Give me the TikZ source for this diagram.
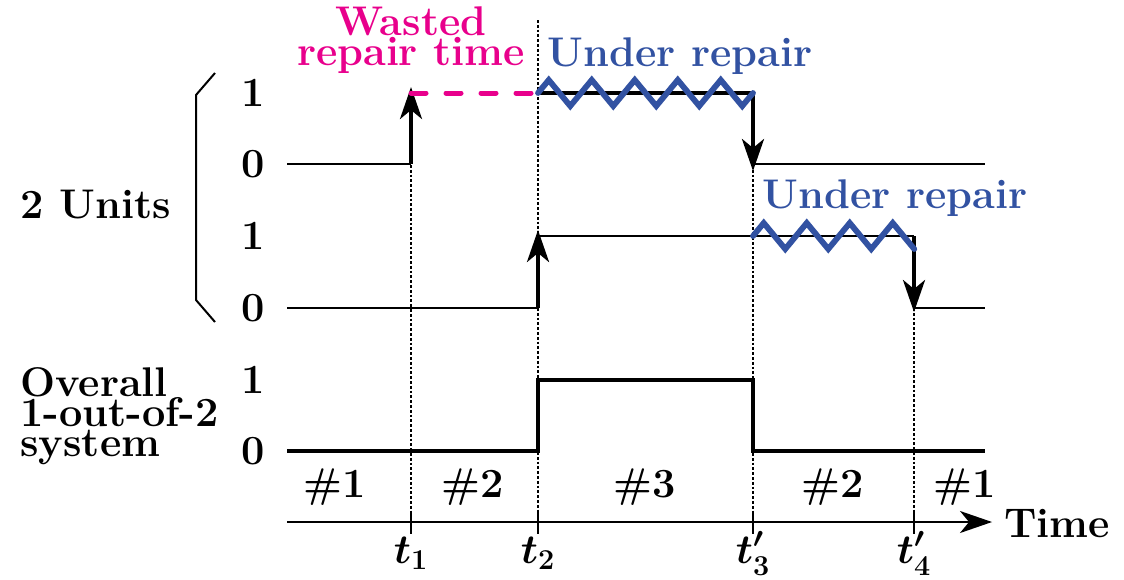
\documentclass[tikz,border=0pt]{standalone}
\usepackage{amsmath,amssymb,bm}
\usepackage{xcolor}
\usepackage{tikz}
\usetikzlibrary{arrows.meta}
\definecolor{wastepink}{RGB}{232,0,140}
\definecolor{repblue}{RGB}{50,82,162}

\begin{document}
\begin{tikzpicture}[x=0.5pt,y=-0.5pt,>={Stealth[length=16pt,width=11pt,inset=4.5pt]},
  every node/.style={font=\fontsize{20.74}{15}\selectfont\bfseries\boldmath,inner sep=0pt},
  thinline/.style={line width=1pt},thickline/.style={line width=2pt},
  zig/.style={repblue,line width=2.9pt,line cap=round,line join=miter},
  instant/.style={densely dotted,line width=1.4pt}]
\useasboundingbox (0,0) rectangle (1124,579);
% time instants and axis
\foreach \x/\ystart in {411/93,538/20,753/93,914/236}{
\draw[instant] (\x,\ystart)--(\x,522);\draw[thinline] (\x,511)--(\x,534);}
\coordinate (t0) at (287,522);\coordinate (tend) at (992,522);
\draw[->,thinline] (t0)--(tend);
\node[anchor=base west] (time) at (1004,537){Time};
\foreach \x/\lab in {411/t_1,538/t_2,753/t'_3,914/t'_4}
\node[anchor=base] (lab\x) at (\x,563){$\lab$};
\foreach \x/\n in {335/1,473/2,645/3,833/2,965/1}
\node[anchor=base] (int\x) at (\x,497){\#\n};
% levels
\foreach \y/\v in {93/1,164/0,236/1,308/0,380/1,451/0}\node (lev\y) at (253,\y){\v};
\draw[thinline] (215,73)--(196,95)--(196,300)--(215,322);
\node[anchor=base west] (units) at (20,218){2 Units};
\node[anchor=north west,align=left] (sys) at (20,367){Overall\\1-out-of-2\\system};
% unit 1
\draw[thinline] (287,164)--(411,164);
\draw[->,line width=1.9pt] (411,164)--(411,87);
\draw[wastepink,line width=2.5pt,line cap=round,dash pattern=on 7.5pt off 10pt] (411,93)--(538,93);
\draw[->,thickline] (538,93)--(753,93)--(753,171);
\draw[thinline] (753,164)--(985,164);
\draw[zig] (538,93) \foreach \k in {1,...,5}{--++(10.75,-13)--++(21.5,26)--++(10.75,-13)};
% unit 2
\draw[thinline] (287,308)--(538,308);
\draw[->,thickline] (538,308)--(538,230);
\draw[thinline] (538,236)--(914,236);
\draw[->,thickline] (914,236)--(914,312);
\draw[thinline] (914,308)--(985,308);
\draw[zig] (753,236) \foreach \k in {1,2,3}{--++(10.75,-13)--++(21.5,26)--++(10.75,-13)}--++(10.75,-13)--++(21.5,26);
% overall system
\draw[thickline] (287,451)--(538,451)--(538,380)--(753,380)--(753,451)--(985,451);
% labels
\node[anchor=north,align=center,text=wastepink] (waste) at (411,6){Wasted\\repair time};
\node[anchor=base,text=repblue] (rep1) at (680,66){Under repair};
\node[anchor=base,text=repblue] (rep2) at (895,208){Under repair};
\end{tikzpicture}
\end{document}
